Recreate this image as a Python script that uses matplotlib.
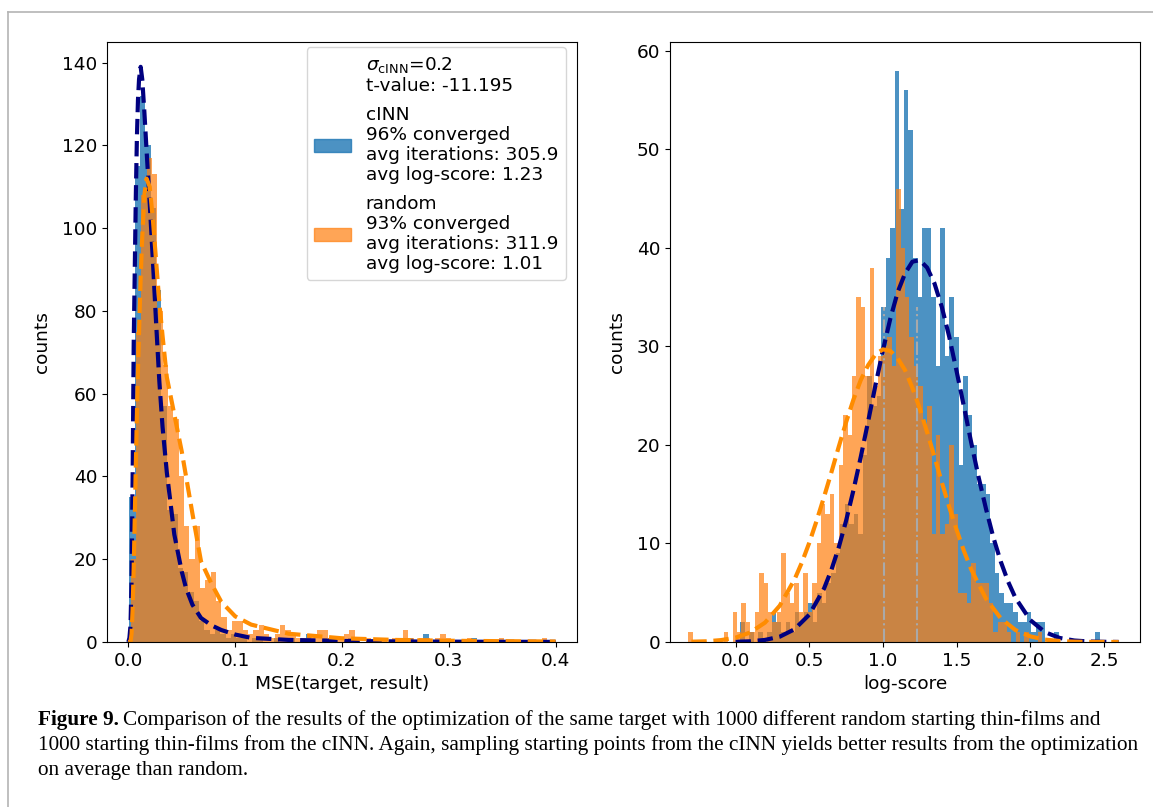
import numpy as np
import matplotlib
matplotlib.use("Agg")
import matplotlib.pyplot as plt
from matplotlib.lines import Line2D
from matplotlib.patches import Patch

# ---- left panel: MSE histograms (bin start, bin width, counts) ----
mse_cinn_start, mse_cinn_width = 0.001, 0.005
mse_cinn_counts = [35, 115, 132, 120, 105, 85, 57, 32, 31, 18,
                   17, 12, 10, 5, 3, 2, 3, 2, 1, 2,
                   1, 1, 0, 1, 1, 0, 0, 1, 0, 0,
                   1, 0, 0, 2, 0, 0, 1, 0, 0, 0,
                   0, 1, 0, 0, 0, 0, 1, 0, 0, 0,
                   0, 0, 1, 0, 0, 2, 0, 0, 0, 0,
                   0, 0, 0, 0, 1, 0, 0, 0, 0, 0,
                   0, 0, 0, 0, 0, 0, 0, 0, 0, 0]
mse_rand_start, mse_rand_width = 0.002, 0.005
mse_rand_counts = [20, 75, 108, 117, 113, 80, 67, 57, 54, 40,
                   28, 20, 28, 13, 15, 17, 10, 6, 3, 5,
                   5, 3, 2, 3, 4, 2, 1, 2, 4, 3,
                   2, 1, 1, 2, 1, 3, 3, 1, 1, 1,
                   2, 3, 1, 0, 1, 0, 1, 1, 0, 1,
                   1, 3, 1, 0, 1, 1, 0, 1, 2, 1,
                   0, 0, 0, 1, 0, 0, 0, 0, 0, 1,
                   0, 0, 0, 0, 0, 0, 0, 1, 0, 0]

# fitted curves
mse_fit_x = [0.0, 0.001, 0.002, 0.003, 0.004, 0.005, 0.006, 0.007, 0.008, 0.009,
             0.010, 0.0115, 0.013, 0.015, 0.017, 0.020, 0.023, 0.026, 0.029, 0.032,
             0.036, 0.043, 0.050, 0.054, 0.060, 0.068, 0.078, 0.087, 0.100, 0.115,
             0.150, 0.200, 0.250, 0.300, 0.350, 0.400]
mse_fit_cinn = [0, 1, 4, 15, 40, 72, 90, 108, 122, 131,
                136, 139, 136, 128, 119, 106, 92, 77, 63, 52,
                41, 26, 17, 13, 9, 5.8, 4, 2.9, 1.8, 1.0,
                0.5, 0.25, 0.15, 0.08, 0.05, 0.03]
mse_fit_rand = [0, 0, 0, 2, 8, 18, 30, 43, 55, 66,
                75, 88, 98, 108, 112, 110, 102, 92, 82, 74,
                64, 55, 46, 40, 31, 19.5, 14, 9.7, 6.2, 4.2,
                2, 0.9, 0.5, 0.3, 0.2, 0.12]

# ---- right panel: log-score histograms ----
ls_cinn_start, ls_cinn_width = 0.03, 0.0309
ls_cinn_counts = [2, 0, 1, 0, 1, 0, 1, 3, 2, 1,
                  2, 1, 3, 2, 3, 4, 2, 5, 4, 6,
                  7, 9, 12, 14, 12, 13, 11, 19, 27, 24,
                  25, 34, 39, 42, 58, 44, 56, 52, 39, 35,
                  42, 42, 35, 28, 42, 29, 35, 31, 18, 27,
                  23, 20, 16, 16, 15, 10, 7, 5, 4, 4,
                  3, 2, 2, 3, 1, 2, 2, 0, 0, 1,
                  0, 0, 0, 0, 0, 0, 0, 0, 1, 0]
ls_rand_start, ls_rand_width = -0.32, 0.030
ls_rand_counts = [1, 0, 0, 0, 0, 0, 0, 0, 1, 0,
                  3, 1, 4, 2, 1, 3, 7, 6, 3, 2,
                  3, 9, 5, 4, 6, 3, 7, 3, 6, 10,
                  14, 13, 15, 10, 18, 23, 21, 27, 35, 34,
                  27, 38, 26, 29, 30, 31, 28, 46, 40, 35,
                  31, 28, 26, 22, 24, 11, 21, 11, 12, 20,
                  13, 5, 5, 4, 8, 6, 6, 6, 4, 1,
                  2, 2, 1, 0, 1, 0, 1, 0, 0, 1]

ls_fit_x_cinn = [0.0, 0.1, 0.2, 0.3, 0.4, 0.5, 0.6, 0.65, 0.7, 0.75,
                 0.8, 0.85, 0.9, 0.95, 1.0, 1.05, 1.1, 1.15, 1.2, 1.25,
                 1.3, 1.35, 1.4, 1.45, 1.5, 1.55, 1.6, 1.65, 1.7, 1.75,
                 1.8, 1.85, 1.9, 2.0, 2.1, 2.2, 2.3, 2.4, 2.5, 2.6]
ls_fit_cinn = [0.02, 0.07, 0.21, 0.54, 1.29, 2.77, 5.41, 7.3, 9.59, 12.3,
               15.4, 18.8, 22.4, 26.1, 29.6, 32.8, 35.5, 37.4, 38.6, 38.76,
               38.0, 36.4, 34.0, 31.0, 27.5, 23.9, 20.2, 16.7, 13.5, 10.6,
               8.16, 6.12, 4.47, 2.23, 1.0, 0.41, 0.15, 0.05, 0.02, 0.005]
ls_fit_x_rand = [-0.3, -0.2, -0.1, 0.0, 0.1, 0.2, 0.3, 0.4, 0.45, 0.5,
                 0.55, 0.6, 0.65, 0.7, 0.75, 0.8, 0.85, 0.9, 0.95, 1.0,
                 1.05, 1.1, 1.15, 1.2, 1.25, 1.3, 1.35, 1.4, 1.45, 1.5,
                 1.55, 1.6, 1.7, 1.8, 1.9, 2.0, 2.1, 2.2, 2.3, 2.4, 2.5, 2.6]
ls_fit_rand = [0.03, 0.07, 0.19, 0.44, 0.97, 1.97, 3.69, 6.34, 8.07, 10.06,
               12.3, 14.7, 17.2, 19.8, 22.3, 24.6, 26.6, 28.1, 29.2, 29.7,
               29.55, 28.8, 27.6, 25.8, 23.7, 21.3, 18.8, 16.2, 13.7, 11.4,
               9.24, 7.35, 4.38, 2.40, 1.21, 0.57, 0.24, 0.10, 0.03, 0.01, 0.004, 0.001]

mean_logscore = [1.01, 1.23]
mean_line_top = 34

legend_head = "$\\sigma_{\\mathrm{cINN}}$=0.2\nt-value: -11.195"
legend_cinn = "cINN\n96% converged\navg iterations: 305.9\navg log-score: 1.23"
legend_rand = "random\n93% converged\navg iterations: 311.9\navg log-score: 1.01"

caption_lines = [
    "Comparison of the results of the optimization of the same target with 1000 different random starting thin-films and",
    "1000 starting thin-films from the cINN. Again, sampling starting points from the cINN yields better results from the optimization",
    "on average than random.",
]

c_cinn = "tab:blue"
c_rand = "tab:orange"


def edges(start, width, n):
    return start + width * np.arange(n + 1)


def draw_hist(ax, start, width, counts, color, alpha):
    counts = np.asarray(counts, dtype=float)
    e = edges(start, width, len(counts))
    centers = 0.5 * (e[:-1] + e[1:])
    ax.hist(centers, bins=e, weights=counts, color=color, alpha=alpha)


plt.rcParams["font.size"] = 13.3
fig = plt.figure(figsize=(11.53, 8.07), dpi=100)
W, H = 1153, 807

ax1 = fig.add_axes([107 / W, 1 - 642 / H, 470 / W, 600 / H])
ax2 = fig.add_axes([670 / W, 1 - 642 / H, 470 / W, 600 / H])

# left
draw_hist(ax1, mse_cinn_start, mse_cinn_width, mse_cinn_counts, c_cinn, 0.8)
draw_hist(ax1, mse_rand_start, mse_rand_width, mse_rand_counts, c_rand, 0.7)
ax1.plot(mse_fit_x, mse_fit_cinn, "--", color="navy", lw=3)
ax1.plot(mse_fit_x, mse_fit_rand, "--", color="darkorange", lw=3)
ax1.set_xlabel("MSE(target, result)")
ax1.set_ylabel("counts", labelpad=8)
ax1.set_xticks([0.0, 0.1, 0.2, 0.3, 0.4])
ax1.set_xlim(-0.02, 0.42)
ax1.set_ylim(0, 145)

handles = [Patch(alpha=0), Patch(color=c_cinn, alpha=0.8), Patch(color=c_rand, alpha=0.7)]
leg = ax1.legend(handles, [legend_head, legend_cinn, legend_rand], loc="upper right",
                 bbox_to_anchor=(1 - 5 / 470, 1 + 1 / 600),
                 handlelength=2.0, handletextpad=0.8, borderaxespad=0.35,
                 labelspacing=0.6)
for t in leg.get_texts():
    t.set_linespacing(1.14)

# right
draw_hist(ax2, ls_cinn_start, ls_cinn_width, ls_cinn_counts, c_cinn, 0.8)
draw_hist(ax2, ls_rand_start, ls_rand_width, ls_rand_counts, c_rand, 0.7)
ax2.vlines(mean_logscore, 0, mean_line_top, colors="darkgrey", linestyles="-.", lw=1.5)
ax2.plot(ls_fit_x_cinn, ls_fit_cinn, "--", color="navy", lw=3)
ax2.plot(ls_fit_x_rand, ls_fit_rand, "--", color="darkorange", lw=3)
ax2.set_xlabel("log-score")
ax2.set_ylabel("counts", labelpad=8)
ax2.set_xticks([0.0, 0.5, 1.0, 1.5, 2.0, 2.5])
ax2.set_xlim(-0.445, 2.745)

# page frame (top and left rule)
fig.add_artist(Line2D([8 / W, 1], [1 - 12 / H, 1 - 12 / H], color="#b4b4b4", lw=1.2))
fig.add_artist(Line2D([8 / W, 8 / W], [0, 1 - 12 / H], color="#b4b4b4", lw=1.2))

# caption
cap_fs = 15.3
renderer = fig.canvas.get_renderer()
t0 = fig.text(38 / W, 1 - 720 / H, "Figure 9.", family="Liberation Serif",
              fontsize=cap_fs, weight="bold", va="center")
bb = t0.get_window_extent(renderer)
fig.text(bb.x1 / W + 4 / W, 1 - 720 / H, caption_lines[0], family="Liberation Serif",
         fontsize=cap_fs, va="center")
fig.text(38 / W, 1 - 745 / H, caption_lines[1], family="Liberation Serif",
         fontsize=cap_fs, va="center")
fig.text(38 / W, 1 - 770 / H, caption_lines[2], family="Liberation Serif",
         fontsize=cap_fs, va="center")

fig.savefig("out.png", dpi=100)
